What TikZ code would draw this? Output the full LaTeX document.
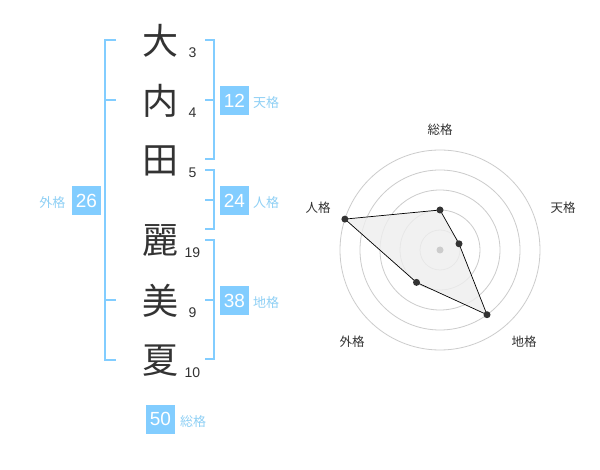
\documentclass[tikz,border=0pt]{standalone}
\usepackage{fontspec}
\setmainfont{Liberation Sans}
\newfontfamily\jp{Noto Sans CJK JP}
\definecolor{sky}{HTML}{82CDFF}
\definecolor{skylab}{HTML}{8FD0F5}
\definecolor{ink}{HTML}{333333}
\definecolor{ringc}{HTML}{CCCCCC}
\definecolor{polyfill}{HTML}{EEEEEE}
\begin{document}
\begin{tikzpicture}[x=1pt,y=-1pt,
  kanji/.style={font=\jp\fontsize{36}{36}\selectfont, text=ink, inner sep=0},
  strokes/.style={font=\fontsize{14}{14}\selectfont, text=ink, inner sep=0},
  numbox/.style={fill=sky, text=white, font=\fontsize{19}{19}\selectfont, minimum width=29, minimum height=29, inner sep=0},
  kaku/.style={font=\jp\fontsize{13}{13}\selectfont, text=skylab, inner sep=0},
  bracket/.style={draw=sky, line width=2},
  ring/.style={draw=ringc, line width=0.8},
  radlab/.style={font=\jp\fontsize{12.5}{12.5}\selectfont, text=ink, inner sep=0},
  pt/.style={circle, fill=ink, inner sep=0, minimum size=7}]
\useasboundingbox (0,0) rectangle (600,470);
\fill[white] (0,0) rectangle (600,470);
% name characters
\node[kanji] (k1) at (160,41) {大};
\node[kanji] (k2) at (160,101) {内};
\node[kanji] (k3) at (160,161) {田};
\node[kanji] (k4) at (160,241) {麗};
\node[kanji] (k5) at (160,301) {美};
\node[kanji] (k6) at (160,361) {夏};
\node[strokes] (s1) at (192.5,52.5) {3};
\node[strokes] (s2) at (192.5,113) {4};
\node[strokes] (s3) at (192.5,173) {5};
\node[strokes] (s4) at (192.5,252.5) {19};
\node[strokes] (s5) at (192.5,313) {9};
\node[strokes] (s6) at (192.5,373) {10};
% brackets
\draw[bracket] (116,40) -- (105,40) -- (105,360) -- (116,360);
\draw[bracket] (105,100) -- (116,100);
\draw[bracket] (105,300) -- (116,300);
\draw[bracket] (205,40) -- (214,40) -- (214,159.5) -- (205,159.5);
\draw[bracket] (205,100) -- (214,100);
\draw[bracket] (205,170) -- (214,170) -- (214,229.5) -- (205,229.5);
\draw[bracket] (205,200) -- (214,200);
\draw[bracket] (205,240) -- (214,240) -- (214,359.5) -- (205,359.5);
\draw[bracket] (205,300) -- (214,300);
% boxes
\node[numbox] (b12) at (234.5,100.5) {12};
\node[kaku, anchor=west] (l12) at (253,103) {天格};
\node[numbox] (b24) at (234.5,200.5) {24};
\node[kaku, anchor=west] (l24) at (253,203) {人格};
\node[numbox] (b38) at (234.5,300.5) {38};
\node[kaku, anchor=west] (l38) at (253,303) {地格};
\node[numbox] (b26) at (86.5,200.5) {26};
\node[kaku, anchor=east] (l26) at (65.5,203) {外格};
\node[numbox] (b50) at (160.5,419) {50};
\node[kaku, anchor=west] (l50) at (180,422) {総格};
% radar
\foreach \r in {20,40,60,80,100} \draw[ring] (440,250) circle[radius=\r];
\coordinate (ps) at (440,210);
\coordinate (pt) at (459,243.8);
\coordinate (pc) at (487,314.7);
\coordinate (pg) at (416.5,282.4);
\coordinate (pj) at (344.9,219.1);
\filldraw[fill=polyfill, fill opacity=0.8, draw=black, line width=0.7] (ps) -- (pt) -- (pc) -- (pg) -- (pj) -- cycle;
\fill[ringc] (440,250) circle[radius=3.5];
\node[pt] (ds) at (ps) {};
\node[pt] (dt) at (pt) {};
\node[pt] (dc) at (pc) {};
\node[pt] (dg) at (pg) {};
\node[pt] (dj) at (pj) {};
\node[radlab] (rs) at (440,130) {総格};
\node[radlab] (rt) at (563,208) {天格};
\node[radlab] (rc) at (524,342) {地格};
\node[radlab] (rg) at (352,342) {外格};
\node[radlab] (rj) at (318,208) {人格};
\end{tikzpicture}
\end{document}
